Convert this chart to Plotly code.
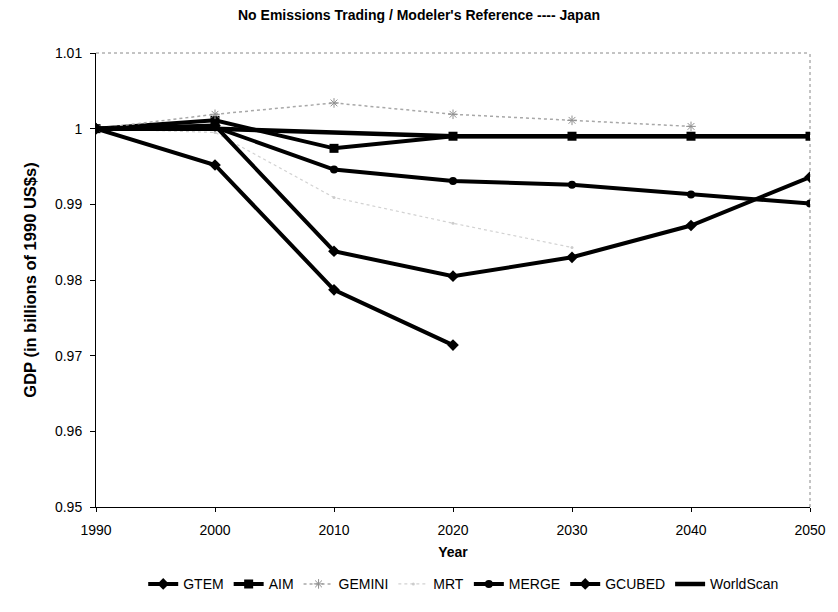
import plotly.graph_objects as go

years = [1990, 2000, 2010, 2020, 2030, 2040, 2050]

gtem = [1.0, 0.9952, 0.9787, 0.9714, None, None, None]
aim = [1.0, 1.0011, 0.9974, 0.9990, 0.9990, 0.9990, 0.9990]
gemini = [1.0, 1.0019, 1.0034, 1.0019, 1.0011, 1.0003, None]
mrt = [1.0, 0.9995, 0.9909, 0.9875, 0.9843, None, None]
merge = [1.0, 1.0002, 0.9946, 0.9931, 0.9926, 0.9913, 0.9901]
gcubed = [1.0, 1.0004, 0.9838, 0.9805, 0.9830, 0.9872, 0.9936]
worldscan = [1.0, 1.0, 0.9995, 0.9990, 0.9990, 0.9990, 0.9990]

ytickvals = [0.95, 0.96, 0.97, 0.98, 0.99, 1.0, 1.01]
yticktext = ["0.95", "0.96", "0.97", "0.98", "0.99", "1", "1.01"]
xtickvals = [1990, 2000, 2010, 2020, 2030, 2040, 2050]

series = [
    ("GTEM", gtem, dict(color="black", width=4), dict(symbol="diamond", size=9, color="black")),
    ("AIM", aim, dict(color="black", width=4), dict(symbol="square", size=9, color="black")),
    ("GEMINI", gemini, dict(color="#a8a8a8", width=1.5, dash="dot"), dict(symbol="asterisk-open", size=8, color="#909090", line=dict(width=1, color="#909090"))),
    ("MRT", mrt, dict(color="#d2d2d2", width=1.2, dash="dot"), dict(symbol="circle", size=3, color="#cccccc")),
    ("MERGE", merge, dict(color="black", width=4), dict(symbol="circle", size=8, color="black")),
    ("GCUBED", gcubed, dict(color="black", width=4), dict(symbol="diamond", size=9, color="black")),
    ("WorldScan", worldscan, dict(color="black", width=4.5), None),
]

fig = go.Figure()
for name, vals, line, marker in series:
    kw = dict(x=years, y=vals, name=name, line=line, connectgaps=False)
    if marker is None:
        kw["mode"] = "lines"
    else:
        kw["mode"] = "lines+markers"
        kw["marker"] = marker
    fig.add_trace(go.Scatter(**kw))

font_family = "Liberation Sans, Arial, sans-serif"

fig.update_layout(
    width=838,
    height=612,
    paper_bgcolor="white",
    plot_bgcolor="white",
    margin=dict(l=96, r=24, t=53, b=84),
    font=dict(family=font_family, size=14, color="black"),
    title=dict(
        text="<b>No Emissions Trading / Modeler's Reference ---- Japan</b>",
        x=0.5, xanchor="center", y=0.976, yanchor="middle",
        font=dict(size=14, family=font_family, color="black"),
    ),
    showlegend=True,
    legend=dict(
        orientation="h",
        x=0.515, xanchor="center",
        y=-0.135, yanchor="top",
        font=dict(size=14, family=font_family),
        itemwidth=30,
        tracegroupgap=0,
        bgcolor="rgba(0,0,0,0)",
    ),
    xaxis=dict(
        range=[1990, 2050],
        tickvals=xtickvals,
        ticks="outside",
        ticklen=4,
        tickcolor="black",
        ticklabelstandoff=6,
        showline=True,
        linecolor="black",
        linewidth=1,
        showgrid=False,
        zeroline=False,
        tickfont=dict(size=14),
        title=dict(text="<b>Year</b>", font=dict(size=14), standoff=10),
    ),
    yaxis=dict(
        range=[0.95, 1.01],
        tickvals=ytickvals,
        ticktext=yticktext,
        ticks="outside",
        ticklen=5,
        tickcolor="black",
        ticklabelstandoff=5,
        showline=True,
        linecolor="black",
        linewidth=1,
        showgrid=False,
        zeroline=False,
        tickfont=dict(size=14),
        title=dict(text="<b>GDP (in billions of 1990 US$s)</b>", font=dict(size=16.5), standoff=14),
    ),
    shapes=[
        dict(type="line", xref="paper", yref="paper", x0=0, x1=1, y0=1, y1=1,
             line=dict(color="#888888", width=1, dash="dot"), layer="below"),
        dict(type="line", xref="paper", yref="paper", x0=1, x1=1, y0=0, y1=1,
             line=dict(color="#888888", width=1, dash="dot"), layer="below"),
    ],
)

fig.write_html(
    "out.html",
    config={"displayModeBar": False},
    post_script="document.body.style.margin='0';document.body.style.overflow='hidden';",
)
